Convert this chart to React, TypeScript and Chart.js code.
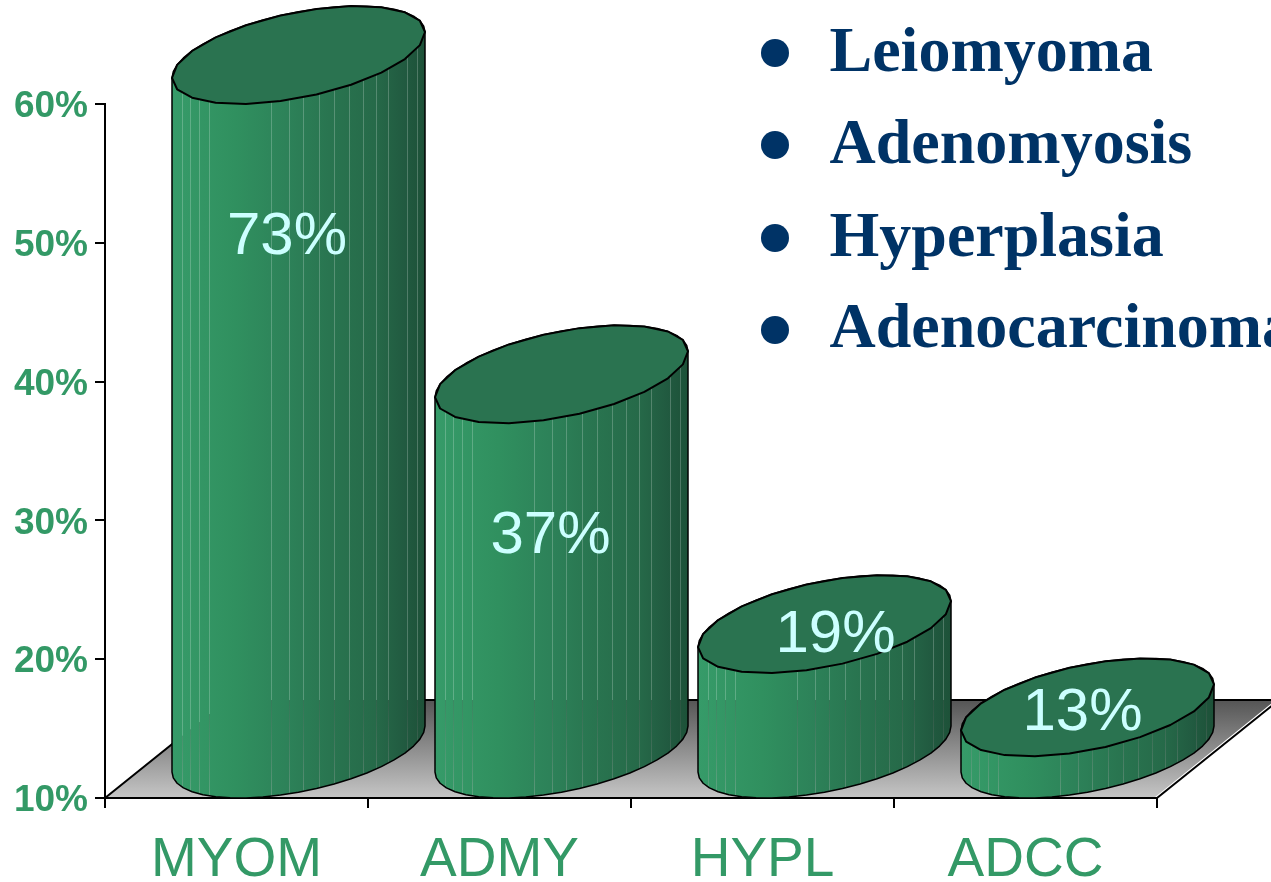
import React, { useEffect, useRef } from "react";
import { Chart, registerables } from "chart.js";

Chart.register(...registerables);

const categories = ["MYOM", "ADMY", "HYPL", "ADCC"];
const percentages = [73, 37, 19, 13];
const legendEntries = ["Leiomyoma", "Adenomyosis", "Hyperplasia", "Adenocarcinoma"];
const axisMin = 10;
const axisMax = 60;
const axisStep = 10;

const GREEN = "#339966";
const NAVY = "#003366";
const LABEL = "#ccffff";
const CAP = "#2a7350";

// Layout of the pseudo-3D drawing, in pixels
const DEPTH_X = 122;
const DEPTH_Y = 98;
const TILT = 23;
const CAP_HALF = 49;
const CAP_B = Math.sqrt(CAP_HALF * CAP_HALF - TILT * TILT);
const SHIFT_X = 62;
const facetLines = [0.04, 0.071, 0.107, 0.146, 0.391, 0.462, 0.518, 0.581, 0.64, 0.7, 0.755, 0.806, 0.854, 0.929, 0.968];
const valueLabelOffsets = [
  { dx: -11.5, dy: 133 },
  { dx: -11, dy: 113 },
  { dx: 11, dy: -38 },
  { dx: -5, dy: -43 },
];
const legendRows = [
  { bullet: 53, base: 71 },
  { bullet: 145, base: 163 },
  { bullet: 238, base: 256 },
  { bullet: 330, base: 347 },
];

function ellipsePoint(cx: number, cy: number, a: number, t: number) {
  return [cx + a * Math.cos(t), cy - TILT * Math.cos(t) + CAP_B * Math.sin(t)];
}

function traceArc(ctx: CanvasRenderingContext2D, cx: number, cy: number, a: number, from: number, to: number, move: boolean) {
  const steps = 22;
  for (let i = 0; i <= steps; i++) {
    const [x, y] = ellipsePoint(cx, cy, a, from + ((to - from) * i) / steps);
    if (i === 0 && move) ctx.moveTo(x, y);
    else ctx.lineTo(x, y);
  }
}

const floorPlugin = {
  id: "floor",
  beforeDatasetsDraw(chart: any) {
    const { ctx, chartArea } = chart;
    const { left, right, bottom } = chartArea;
    const back = bottom - DEPTH_Y;
    ctx.save();
    const g = ctx.createLinearGradient(0, back, 0, bottom);
    g.addColorStop(0, "#555555");
    g.addColorStop(1, "#c6c6c6");
    ctx.fillStyle = g;
    ctx.beginPath();
    ctx.moveTo(left, bottom);
    ctx.lineTo(left + DEPTH_X, back);
    ctx.lineTo(right + DEPTH_X, back);
    ctx.lineTo(right, bottom);
    ctx.closePath();
    ctx.fill();
    ctx.lineWidth = 2;
    ctx.strokeStyle = "#000000";
    ctx.beginPath();
    ctx.moveTo(left, bottom);
    ctx.lineTo(left + DEPTH_X, back);
    ctx.lineTo(right + DEPTH_X, back);
    ctx.stroke();
    ctx.strokeStyle = "#ffffff";
    ctx.lineWidth = 1.5;
    ctx.beginPath();
    ctx.moveTo(right - 2, bottom);
    ctx.lineTo(right + DEPTH_X - 2, back);
    ctx.stroke();
    ctx.strokeStyle = "#000000";
    ctx.lineWidth = 2;
    ctx.beginPath();
    ctx.moveTo(right, bottom);
    ctx.lineTo(right + DEPTH_X, back);
    ctx.stroke();
    ctx.beginPath();
    ctx.moveTo(left - 10, bottom);
    ctx.lineTo(right, bottom);
    ctx.stroke();
    ctx.restore();
  },
};

const cylinderPlugin = {
  id: "cylinders",
  afterDatasetsDraw(chart: any) {
    const { ctx, chartArea, scales } = chart;
    const meta = chart.getDatasetMeta(0);
    const topLimit = scales.y.getPixelForValue(axisMax);
    const basePx = scales.y.getPixelForValue(axisMin);
    const floorBack = chartArea.bottom - DEPTH_Y;
    const floorEdge = (x: number) =>
      Math.max(floorBack, chartArea.bottom - ((x - chartArea.left) * DEPTH_Y) / DEPTH_X);

    const seamBelow = ctx.createLinearGradient(0, floorBack, 0, chartArea.bottom);
    seamBelow.addColorStop(0, "rgba(85,85,85,0.22)");
    seamBelow.addColorStop(1, "rgba(198,198,198,0.3)");

    ctx.save();
    ctx.lineJoin = "round";
    meta.data.forEach((bar: any, i: number) => {
      const a = bar.width / 2;
      const cx = bar.x + SHIFT_X;
      const frontTop = Math.max(bar.y, topLimit);
      const topCy = frontTop - CAP_HALF;
      const botCy = basePx - CAP_HALF;

      const side = () => {
        ctx.beginPath();
        traceArc(ctx, cx, botCy, a, Math.PI, 0, true);
        traceArc(ctx, cx, topCy, a, 2 * Math.PI, Math.PI, false);
        ctx.closePath();
      };

      const g = ctx.createLinearGradient(cx - a, 0, cx + a, 0);
      g.addColorStop(0, "#369b69");
      g.addColorStop(0.25, "#30905f");
      g.addColorStop(0.45, "#2d8259");
      g.addColorStop(0.62, "#297550");
      g.addColorStop(0.8, "#266a49");
      g.addColorStop(0.92, "#215a40");
      g.addColorStop(1, "#1d5138");
      side();
      ctx.fillStyle = g;
      ctx.fill();

      // Seams between the facets let the background show faintly through
      ctx.save();
      side();
      ctx.clip();
      ctx.lineWidth = 1;
      facetLines.forEach((f) => {
        const x = Math.round(cx - a + f * bar.width) + 0.5;
        const split = floorEdge(x);
        ctx.strokeStyle = "rgba(255,255,255,0.22)";
        ctx.beginPath();
        ctx.moveTo(x, topCy - CAP_HALF);
        ctx.lineTo(x, split);
        ctx.stroke();
        ctx.strokeStyle = seamBelow;
        ctx.beginPath();
        ctx.moveTo(x, split);
        ctx.lineTo(x, basePx);
        ctx.stroke();
      });
      ctx.restore();

      ctx.strokeStyle = "#000000";
      ctx.lineWidth = 1.5;
      side();
      ctx.stroke();

      ctx.beginPath();
      traceArc(ctx, cx, topCy, a, 0, 2 * Math.PI, true);
      ctx.closePath();
      ctx.fillStyle = CAP;
      ctx.fill();
      ctx.lineWidth = 2;
      ctx.stroke();

      const off = valueLabelOffsets[i];
      ctx.fillStyle = LABEL;
      ctx.font = '60px "Liberation Sans"';
      ctx.textAlign = "center";
      ctx.textBaseline = "middle";
      ctx.fillText(`${percentages[i]}%`, cx + off.dx, frontTop + off.dy);
    });
    ctx.restore();
  },
};

const legendPlugin = {
  id: "bulletLegend",
  afterDraw(chart: any) {
    const { ctx } = chart;
    ctx.save();
    legendEntries.forEach((name, i) => {
      const row = legendRows[i];
      ctx.fillStyle = NAVY;
      ctx.beginPath();
      ctx.arc(775, row.bullet, 14, 0, 2 * Math.PI);
      ctx.fill();
      ctx.font = 'bold 64px "Liberation Serif"';
      ctx.textAlign = "left";
      ctx.textBaseline = "alphabetic";
      ctx.fillText(name, 829.5, row.base);
    });
    ctx.restore();
  },
};

export default function App() {
  const ref = useRef<HTMLCanvasElement | null>(null);

  useEffect(() => {
    document.body.style.margin = "0";
    const chart = new Chart(ref.current as HTMLCanvasElement, {
      type: "bar",
      data: {
        labels: categories,
        datasets: [
          {
            label: "Share",
            data: percentages,
            backgroundColor: "rgba(0,0,0,0)",
            borderWidth: 0,
            barPercentage: 0.962,
            categoryPercentage: 1,
          },
        ],
      },
      options: {
        animation: false,
        responsive: false,
        devicePixelRatio: 1,
        layout: { padding: { top: 104, right: 114, left: 0, bottom: 0 } },
        plugins: { legend: { display: false }, tooltip: { enabled: false } },
        scales: {
          x: {
            afterFit(scale: any) {
              scale.height = 84;
            },
            grid: { drawOnChartArea: false, drawTicks: true, tickLength: 10, color: "#000000", lineWidth: 2 },
            border: { color: "#000000", width: 2 },
            ticks: {
              color: GREEN,
              padding: 20,
              maxRotation: 0,
              font: { family: '"Liberation Sans"', size: 55 },
            },
          },
          y: {
            min: axisMin,
            max: axisMax,
            afterFit(scale: any) {
              scale.width = 105;
            },
            grid: { drawOnChartArea: false, drawTicks: true, tickLength: 10, color: "#000000", lineWidth: 2 },
            border: { color: "#000000", width: 2 },
            ticks: {
              stepSize: axisStep,
              color: GREEN,
              padding: 7,
              labelOffset: 3,
              font: { family: '"Liberation Sans"', size: 37, weight: "bold" },
              callback: (v: any) => `${v}%`,
            },
          },
        },
      },
      plugins: [floorPlugin, cylinderPlugin, legendPlugin],
    } as any);
    return () => chart.destroy();
  }, []);

  return (
    <div style={{ width: 1271, height: 882, overflow: "hidden", background: "#ffffff" }}>
      <canvas ref={ref} width={1271} height={882} style={{ display: "block" }} />
    </div>
  );
}
